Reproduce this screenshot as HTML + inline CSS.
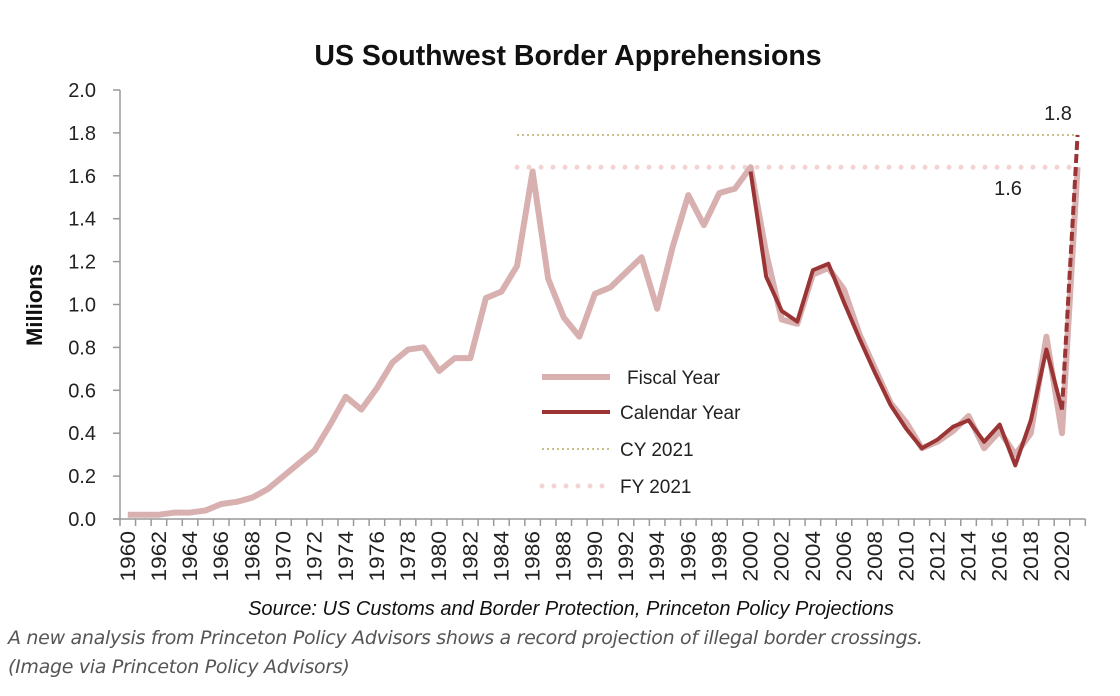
<!DOCTYPE html>
<html><head><meta charset="utf-8"><style>
body{margin:0;background:#fff;width:1120px;height:696px;overflow:hidden;font-family:"Liberation Sans",sans-serif}
svg{position:absolute;left:0;top:0}
.cap{position:absolute;left:8px;font-style:italic;color:#555;font-size:19px;font-family:"DejaVu Sans","Liberation Sans",sans-serif;letter-spacing:-0.3px}
</style></head><body>
<svg width="1120" height="696" id="c"></svg>
<div class="cap" style="top:627px">A new analysis from Princeton Policy Advisors shows a record projection of illegal border crossings.</div>
<div class="cap" style="top:656px">(Image via Princeton Policy Advisors)</div>
<script>
const years=[];for(let y=1960;y<=2021;y++)years.push(y);
const fyValues=[.02,.02,.02,.03,.03,.04,.07,.08,.10,.14,.20,.26,.32,.44,.57,.51,.61,.73,.79,.80,.69,.75,.75,1.03,1.06,1.18,1.62,1.12,.94,.85,1.05,1.08,1.15,1.22,.98,1.27,1.51,1.37,1.52,1.54,1.64,1.24,.93,.91,1.14,1.17,1.07,.86,.70,.54,.45,.33,.36,.41,.48,.33,.41,.30,.40,.85,.40,1.64];
const cyYears=[2000,2001,2002,2003,2004,2005,2006,2007,2008,2009,2010,2011,2012,2013,2014,2015,2016,2017,2018,2019,2020];
const cyValues=[1.62,1.13,.97,.92,1.16,1.19,1.01,.84,.68,.53,.42,.33,.37,.43,.46,.36,.44,.25,.46,.79,.51];
const cyProjYears=[2020,2021];
const cyProjValues=[.51,1.79];
const cy2021=1.79, fy2021=1.64;
const yTicks=[0,0.2,0.4,0.6,0.8,1.0,1.2,1.4,1.6,1.8,2.0];
const NS='http://www.w3.org/2000/svg',svg=document.getElementById('c');
const X0=120,STEP=15.57,Y0=519,YS=214.5;
const xs=y=>X0+(y-1960+0.5)*STEP, ys=v=>Y0-v*YS;
function el(t,a,p){const e=document.createElementNS(NS,t);for(const k in a)e.setAttribute(k,a[k]);(p||svg).appendChild(e);return e;}
function txt(s,a){const e=el('text',a);e.textContent=s;return e;}
let t=txt('US Southwest Border Apprehensions',{x:568,y:65,'text-anchor':'middle','font-size':28.5,'font-weight':'bold',fill:'#111'});


let ax=el('line',{x1:X0,y1:Y0,x2:X0,y2:ys(2),stroke:'#999','stroke-width':1.5});


yTicks.forEach(v=>{el('line',{x1:X0-7,x2:X0,y1:ys(v),y2:ys(v),stroke:'#999','stroke-width':1.5});
 const l=txt(v.toFixed(1),{x:96,y:ys(v)+7,'text-anchor':'end','font-size':20,fill:'#222'});
 
 });
let xa=el('line',{x1:X0-7,y1:Y0,x2:X0+62*STEP,y2:Y0,stroke:'#999','stroke-width':1.5});


for(let i=0;i<=62;i++)el('line',{x1:X0+i*STEP,x2:X0+i*STEP,y1:Y0,y2:Y0+7,stroke:'#999','stroke-width':1.5});
years.forEach(y=>{if(y%2)return;const l=txt(String(y),{x:0,y:0,'text-anchor':'end','font-size':21,fill:'#222',transform:`translate(${xs(y)+7},${Y0+12}) rotate(-90) scale(1.08,1)`});
 
 });
let yl=txt('Millions',{x:0,y:0,'text-anchor':'middle','font-size':22,'font-weight':'bold',fill:'#111',transform:'translate(42,305) rotate(-90)'});


let r1=el('line',{x1:xs(1985),x2:xs(2021),y1:ys(cy2021),y2:ys(cy2021),stroke:'#c8bf8a','stroke-width':2,'stroke-dasharray':'2 3'});


let r2=el('line',{x1:xs(1985),x2:xs(2021),y1:ys(fy2021),y2:ys(fy2021),stroke:'#f2d4d4','stroke-width':5,'stroke-linecap':'round','stroke-dasharray':'0 12'});


const pts=(xa,va)=>xa.map((y,i)=>xs(y)+','+ys(va[i])).join(' ');
let fy=el('polyline',{points:pts(years,fyValues),fill:'none',stroke:'#d8b0b0','stroke-width':6,'stroke-linejoin':'round'});


let cy=el('polyline',{points:pts(cyYears,cyValues),fill:'none',stroke:'#9b3535','stroke-width':4,'stroke-linejoin':'round'});


let cp=el('polyline',{points:pts(cyProjYears,cyProjValues),fill:'none',stroke:'#9b3535','stroke-width':4,'stroke-dasharray':'9 4'});


let a1=txt('1.8',{x:1058,y:120,'text-anchor':'middle','font-size':20,fill:'#222'});


let a2=txt('1.6',{x:1008,y:195,'text-anchor':'middle','font-size':20,fill:'#222'});


const leg=[['Fiscal Year',377,{stroke:'#d8b0b0','stroke-width':6}],['Calendar Year',412,{stroke:'#9b3535','stroke-width':4}],['CY 2021',449,{stroke:'#c8bf8a','stroke-width':2,'stroke-dasharray':'2 3'}],['FY 2021',486,{stroke:'#f2d4d4','stroke-width':5,'stroke-linecap':'round','stroke-dasharray':'0 12'}]];
leg.forEach(([n,y,s])=>{const g=el('g',{});
 
 
 el('line',Object.assign({x1:542,x2:610,y1:y,y2:y},s),g);
 const tt=el('text',{x:n==='Fiscal Year'?627:620,y:y+7,'font-size':19,fill:'#222'},g);tt.textContent=n;});
let src=txt('Source: US Customs and Border Protection, Princeton Policy Projections',{x:571,y:615,'text-anchor':'middle','font-size':20,'font-style':'italic',fill:'#111'});


</script>
</body></html>
